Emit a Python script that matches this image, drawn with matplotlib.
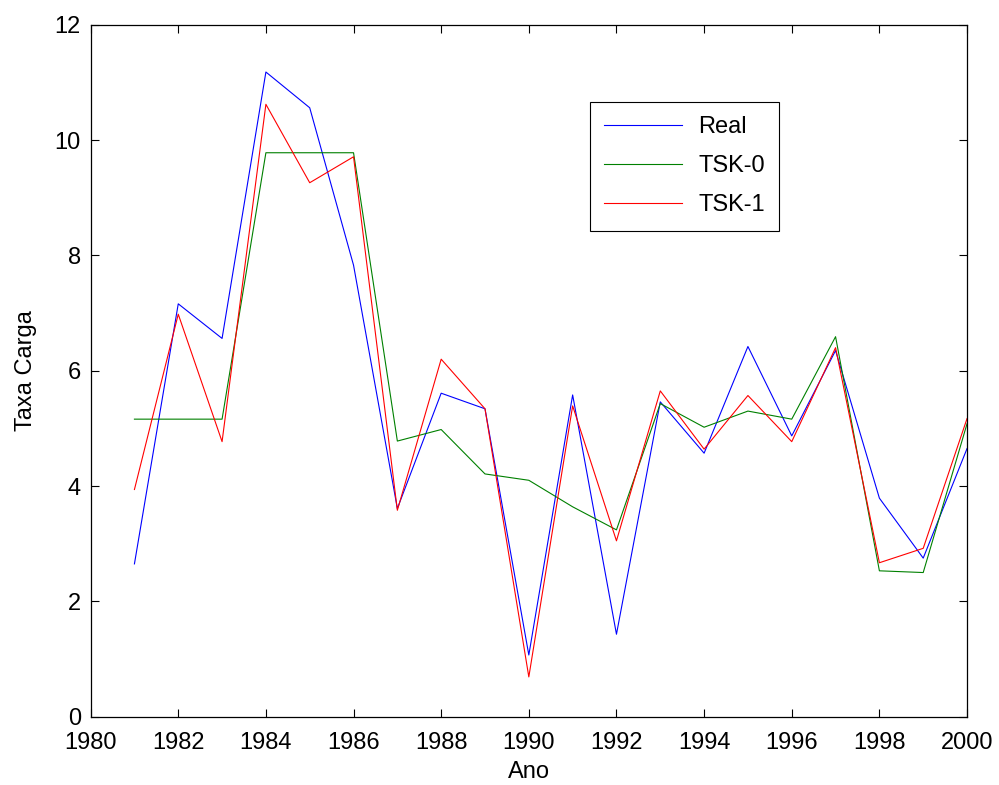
import numpy as np
import matplotlib
matplotlib.use("Agg")
import matplotlib.pyplot as plt

plt.rcParams['font.family'] = ['Liberation Sans', 'DejaVu Sans']

# data
anos = np.arange(1981, 2001)
real = [2.65, 7.16, 6.56, 11.18, 10.56, 7.83, 3.61, 5.61, 5.34, 1.07,
        5.58, 1.43, 5.46, 4.57, 6.42, 4.87, 6.35, 3.79, 2.75, 4.65]
tsk0 = [5.16, 5.16, 5.16, 9.78, 9.78, 9.78, 4.78, 4.98, 4.21, 4.10,
        3.64, 3.24, 5.43, 5.02, 5.30, 5.16, 6.59, 2.53, 2.50, 5.08]
tsk1 = [3.94, 6.98, 4.77, 10.62, 9.26, 9.71, 3.58, 6.20, 5.34, 0.69,
        5.39, 3.05, 5.65, 4.64, 5.57, 4.77, 6.40, 2.67, 2.92, 5.17]

xticks = np.arange(1980, 2001, 2)
yticks = np.arange(0, 13, 2)

fig = plt.figure(figsize=(9.99, 7.85), dpi=100)
ax = fig.add_axes([0.0907, 0.087, 0.8773, 0.8815])

ax.plot(anos, real, color=(0, 0, 1), lw=0.8, label='Real')
ax.plot(anos, tsk0, color=(0, 0.5, 0), lw=0.8, label='TSK-0')
ax.plot(anos, tsk1, color=(1, 0, 0), lw=0.8, label='TSK-1')

ax.set_xlim(1980, 2000)
ax.set_ylim(0, 12)
ax.set_xticks(xticks)
ax.set_yticks(yticks)
ax.tick_params(direction='in', length=6, width=0.8, labelsize=17,
               top=True, right=True)
ax.tick_params(axis='x', pad=11)
ax.tick_params(axis='y', pad=7)
for s in ax.spines.values():
    s.set_linewidth(0.9)

ax.set_xlabel('Ano', fontsize=17, labelpad=5)
ax.set_ylabel('Taxa Carga', fontsize=17, labelpad=13)

leg = ax.legend(loc='upper left', bbox_to_anchor=(0.556, 0.905), fontsize=17,
                fancybox=False, framealpha=1, edgecolor='black',
                handlelength=3.3, handletextpad=0.7, borderpad=0.6,
                labelspacing=0.72)
leg.get_frame().set_linewidth(0.8)

fig.savefig('out.png', dpi=100)
